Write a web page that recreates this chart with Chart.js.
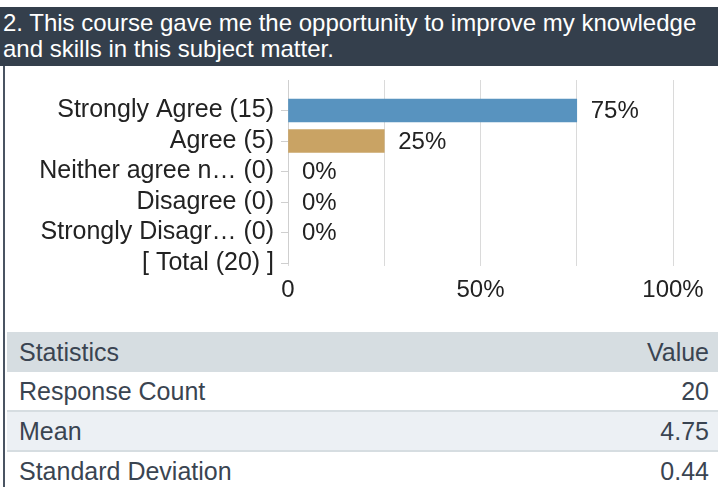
<!DOCTYPE html>
<html>
<head>
<meta charset="utf-8">
<script src="https://cdn.jsdelivr.net/npm/chart.js@4.4.1/dist/chart.umd.min.js"></script>
<style>
  html, body { margin: 0; padding: 0; background: #ffffff; }
  body { width: 718px; height: 487px; position: relative; overflow: hidden;
         font-family: "Liberation Sans", Arial, sans-serif; }
  #title { position: absolute; left: 0; top: 7px; width: 715px; height: 56px;
           padding: 3px 0 0 3px; background: #343f4c; color: #ffffff;
           font-size: 24px; line-height: 26px; white-space: nowrap; }
  #leftbar { position: absolute; left: 3px; top: 66px; width: 2px; height: 421px; background: #4a5462; }
  #chartWrap { position: absolute; left: 0; top: 67px; width: 718px; height: 250px; }
  #stats { position: absolute; left: 7px; top: 332px; width: 711px; border-collapse: collapse;
           font-size: 25px; color: #3a4451; }
  #stats td { padding: 0; height: 38px; line-height: 38px; }
  #stats td.l { padding-left: 12px; text-align: left; }
  #stats td.r { padding-right: 9px; text-align: right; }
  #stats tr.head td { background: #d6dde1; height: 40px; line-height: 40px; }
  #stats tr.alt td { background: #ecf0f4; }
  #stats tr.sep td { border-bottom: 2px solid #d6dde1; }
</style>
</head>
<body>
<div id="title">2. This course gave me the opportunity to improve my knowledge<br>and skills in this subject matter.</div>
<div id="leftbar"></div>
<div id="chartWrap"><canvas id="c" width="718" height="250"></canvas></div>
<table id="stats">
  <tr class="head"><td class="l">Statistics</td><td class="r">Value</td></tr>
  <tr class="sep"><td class="l">Response Count</td><td class="r">20</td></tr>
  <tr class="alt sep"><td class="l">Mean</td><td class="r">4.75</td></tr>
  <tr><td class="l">Standard Deviation</td><td class="r">0.44</td></tr>
</table>
<script>
// ---- data ----
const categories = ["Strongly Agree (15)", "Agree (5)", "Neither agree n\u2026 (0)", "Disagree (0)", "Strongly Disagr\u2026 (0)"];
const totalLabel = "[ Total (20) ]";
const percentValues = [75, 25, 0, 0, 0];
const barColors = ["#5893bf", "#c9a364", "#5893bf", "#5893bf", "#5893bf"];
const xTickValues = [0, 25, 50, 75, 100];
const xTickLabels = ["0", "", "50%", "", "100%"];

// build library table (empty top slot + categories + total row)
const labels = [""].concat(categories, [totalLabel]);
const data = [null].concat(percentValues, [null]);
const colors = ["rgba(0,0,0,0)"].concat(barColors, ["rgba(0,0,0,0)"]);

Chart.defaults.font.family = '"Liberation Sans", Arial, sans-serif';
Chart.defaults.font.size = 24;
Chart.defaults.color = "#222222";

const valueLabels = {
  id: "valueLabels",
  afterDatasetsDraw(chart) {
    const ctx = chart.ctx;
    const meta = chart.getDatasetMeta(0);
    ctx.save();
    ctx.font = '24px "Liberation Sans", Arial, sans-serif';
    ctx.fillStyle = "#222222";
    ctx.textAlign = "left";
    ctx.textBaseline = "middle";
    meta.data.forEach((bar, i) => {
      const v = data[i];
      if (v === null || v === undefined) return;
      ctx.fillText(v + "%", bar.x + 14, bar.y + 1);
    });
    ctx.restore();
  }
};

new Chart(document.getElementById("c"), {
  type: "bar",
  data: {
    labels: labels,
    datasets: [{
      data: data,
      backgroundColor: (ctx) => (data[ctx.dataIndex] ? colors[ctx.dataIndex] : "rgba(0,0,0,0)"),
      borderWidth: 0,
      barThickness: 23
    }]
  },
  options: {
    indexAxis: "y",
    responsive: false,
    animation: false,
    events: [],
    layout: { padding: { top: 13, right: 45, left: 0, bottom: 0 } },
    plugins: { legend: { display: false }, tooltip: { enabled: false } },
    scales: {
      y: {
        type: "category",
        offset: false,
        grid: {
          offset: false,
          drawOnChartArea: false,
          drawTicks: true,
          tickLength: 7,
          color: (ctx) => (ctx.index === 0 ? "rgba(0,0,0,0)" : "#cfcfcf")
        },
        border: { display: true, color: "#cfcfcf" },
        ticks: { padding: 7, color: "#222222", font: { size: 25 }, autoSkip: false },
        afterFit: (s) => { s.width = 288; s.paddingTop = 0; s.paddingBottom = 0; }
      },
      x: {
        type: "linear",
        min: 0,
        max: 100,
        afterBuildTicks: (s) => { s.ticks = xTickValues.map(v => ({ value: v })); },
        ticks: {
          padding: 10,
          color: "#222222",
          font: { size: 24 },
          maxRotation: 0,
          autoSkip: false,
          callback: (v, i) => xTickLabels[i]
        },
        grid: { color: "#dadada", drawTicks: true, tickLength: 3 },
        border: { display: false },
        afterFit: (s) => { s.height = 54; }
      }
    }
  },
  plugins: [valueLabels]
});
</script>
</body>
</html>
